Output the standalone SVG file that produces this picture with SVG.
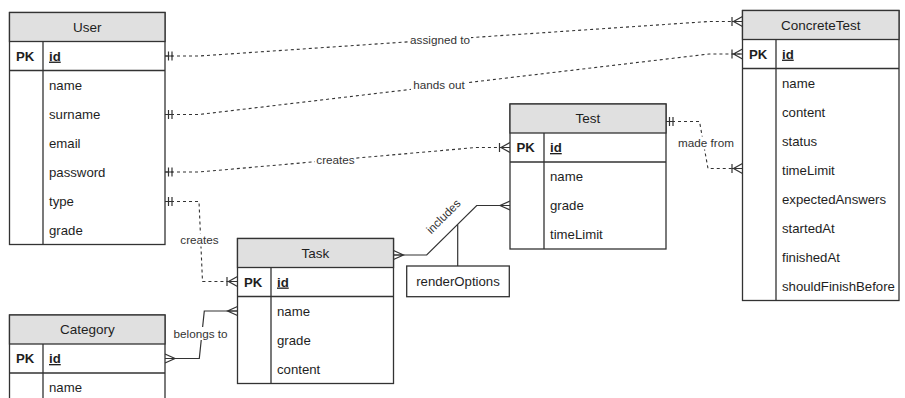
<svg xmlns="http://www.w3.org/2000/svg" width="905" height="398" viewBox="0 0 905 398">
  <style>
    .box { fill: #ffffff; stroke: #333333; stroke-width: 1.3; }
    .hdr { fill: #e0e0e0; stroke: #333333; stroke-width: 1.3; }
    .ln { stroke: #333333; stroke-width: 1.3; fill: none; }
    .t { font-family: "Liberation Sans", Arial, sans-serif; font-size: 13.2px; fill: #1e1e1e; }
    .h { font-family: "Liberation Sans", Arial, sans-serif; font-size: 13.5px; fill: #1e1e1e; text-anchor: middle; }
    .pk { font-weight: bold; }
    .key { font-weight: bold; text-decoration: underline; }
    .lbl { font-family: "Liberation Sans", Arial, sans-serif; font-size: 11.7px; fill: #333333; text-anchor: middle; }
    .lblbg { fill: #ffffff; }
    .dash { stroke: #333333; stroke-width: 1.1; stroke-dasharray: 3 3; fill: none; }
    .solid { stroke: #333333; stroke-width: 1.2; fill: none; }
    .mk { stroke: #333333; stroke-width: 1.2; fill: none; stroke-dasharray: none; }
  </style>
  <defs>
    <!-- mandatory one: two bars next to the entity edge -->
    <marker id="mandOne" markerUnits="userSpaceOnUse" viewBox="-15 -8 16 16" markerWidth="16" markerHeight="16" refX="0" refY="0" orient="auto-start-reverse" overflow="visible">
      <path class="mk" d="M-3.5,-4.5V4.5M-7,-4.5V4.5M-8,0H0"/>
    </marker>
    <!-- one or many: bar plus crow's foot -->
    <marker id="oneMany" markerUnits="userSpaceOnUse" viewBox="-15 -8 16 16" markerWidth="16" markerHeight="16" refX="0" refY="0" orient="auto-start-reverse" overflow="visible">
      <path class="mk" d="M-10.5,-4.5V4.5M0,-5L-9,0L0,5M-10,0H0"/>
    </marker>
    <!-- many: crow's foot -->
    <marker id="many" markerUnits="userSpaceOnUse" viewBox="-15 -8 16 16" markerWidth="16" markerHeight="16" refX="0" refY="0" orient="auto-start-reverse" overflow="visible">
      <path class="mk" d="M0,-4.5L-10,0L0,4.5M-10,0H0"/>
    </marker>
  </defs>

  <!-- relationships -->
  <g id="connectors">
    <path class="dash" d="M165,56H199L709,21.5H742.5" marker-start="url(#mandOne)" marker-end="url(#oneMany)"/>
    <path class="dash" d="M165,114.5H199L709,54H742.5" marker-start="url(#mandOne)" marker-end="url(#oneMany)"/>
    <path class="dash" d="M165,172H199L476,147.5H510" marker-start="url(#mandOne)" marker-end="url(#oneMany)"/>
    <path class="dash" d="M165,201.5H199L202.5,281.5H237.5" marker-start="url(#mandOne)" marker-end="url(#oneMany)"/>
    <path class="dash" d="M666,121.5H699.5L708,168.5H742.5" marker-start="url(#mandOne)" marker-end="url(#oneMany)"/>
    <path class="solid" d="M165,358.5H199.3L204.3,311H237.5" marker-start="url(#many)" marker-end="url(#many)"/>
    <path class="solid" d="M393.5,255H426.7L476.7,205.5H510" marker-start="url(#many)" marker-end="url(#many)"/>
    <path class="solid" d="M457.7,266V224.4"/>

    <rect class="lblbg" x="409" y="33" width="62" height="13"/>
    <text class="lbl" x="440" y="43.5">assigned to</text>
    <rect class="lblbg" x="411" y="78.5" width="56" height="13"/>
    <text class="lbl" x="439" y="89">hands out</text>
    <rect class="lblbg" x="315" y="153.5" width="41" height="13"/>
    <text class="lbl" x="335.5" y="164">creates</text>
    <rect class="lblbg" x="179" y="233.5" width="41" height="13"/>
    <text class="lbl" x="199.5" y="244">creates</text>
    <rect class="lblbg" x="676" y="136.5" width="60" height="13"/>
    <text class="lbl" x="706" y="147">made from</text>
    <rect class="lblbg" x="171" y="327" width="59" height="13"/>
    <text class="lbl" x="200.5" y="337.5">belongs to</text>
    <text class="lbl" x="443.5" y="220.5" transform="rotate(-45 443.5 216.5)">includes</text>
  </g>

  <g id="user">
    <rect class="box" x="9.5" y="12.5" width="155.5" height="232"/>
    <rect class="hdr" x="9.5" y="12.5" width="155.5" height="29"/>
    <path class="ln" d="M9.5,70.5H165M43,41.5V244.5"/>
    <text class="h" x="87.3" y="31.8">User</text>
    <text class="t pk" x="16" y="60.6">PK</text>
    <text class="t key" x="49" y="60.6">id</text>
    <text class="t" x="49" y="89.5">name</text>
    <text class="t" x="49" y="118.5">surname</text>
    <text class="t" x="49" y="147.5">email</text>
    <text class="t" x="49" y="176.5">password</text>
    <text class="t" x="49" y="205.5">type</text>
    <text class="t" x="49" y="234.5">grade</text>
  </g>

  <g id="concrete-test">
    <rect class="box" x="742.5" y="10.5" width="156.5" height="290"/>
    <rect class="hdr" x="742.5" y="10.5" width="156.5" height="29"/>
    <path class="ln" d="M742.5,68.5H899M776,39.5V300.5"/>
    <text class="h" x="820.8" y="29.8">ConcreteTest</text>
    <text class="t pk" x="749" y="58.6">PK</text>
    <text class="t key" x="782" y="58.6">id</text>
    <text class="t" x="782" y="87.5">name</text>
    <text class="t" x="782" y="116.5">content</text>
    <text class="t" x="782" y="145.5">status</text>
    <text class="t" x="782" y="174.5">timeLimit</text>
    <text class="t" x="782" y="203.5">expectedAnswers</text>
    <text class="t" x="782" y="232.5">startedAt</text>
    <text class="t" x="782" y="261.5">finishedAt</text>
    <text class="t" x="782" y="290.5">shouldFinishBefore</text>
  </g>

  <g id="test">
    <rect class="box" x="510" y="104" width="156" height="145"/>
    <rect class="hdr" x="510" y="104" width="156" height="29"/>
    <path class="ln" d="M510,162H666M544,133V249"/>
    <text class="h" x="588" y="123.3">Test</text>
    <text class="t pk" x="516.5" y="152">PK</text>
    <text class="t key" x="550" y="152">id</text>
    <text class="t" x="550" y="181">name</text>
    <text class="t" x="550" y="210">grade</text>
    <text class="t" x="550" y="239">timeLimit</text>
  </g>

  <g id="task">
    <rect class="box" x="237.5" y="238.5" width="156" height="145"/>
    <rect class="hdr" x="237.5" y="238.5" width="156" height="29"/>
    <path class="ln" d="M237.5,296.5H393.5M271,267.5V383.5"/>
    <text class="h" x="315.5" y="257.8">Task</text>
    <text class="t pk" x="244" y="286.5">PK</text>
    <text class="t key" x="277" y="286.5">id</text>
    <text class="t" x="277" y="315.5">name</text>
    <text class="t" x="277" y="344.5">grade</text>
    <text class="t" x="277" y="373.5">content</text>
  </g>

  <g id="category">
    <rect class="box" x="9.5" y="315" width="155.5" height="88"/>
    <rect class="hdr" x="9.5" y="315" width="155.5" height="29"/>
    <path class="ln" d="M9.5,373H165M43,344V403"/>
    <text class="h" x="87.3" y="334.3">Category</text>
    <text class="t pk" x="16" y="363">PK</text>
    <text class="t key" x="49" y="363">id</text>
    <text class="t" x="49" y="392">name</text>
  </g>

  <g id="render-options">
    <rect class="box" x="406.7" y="266" width="102.6" height="30.7"/>
    <text class="t" x="458" y="286" text-anchor="middle">renderOptions</text>
  </g>
</svg>
